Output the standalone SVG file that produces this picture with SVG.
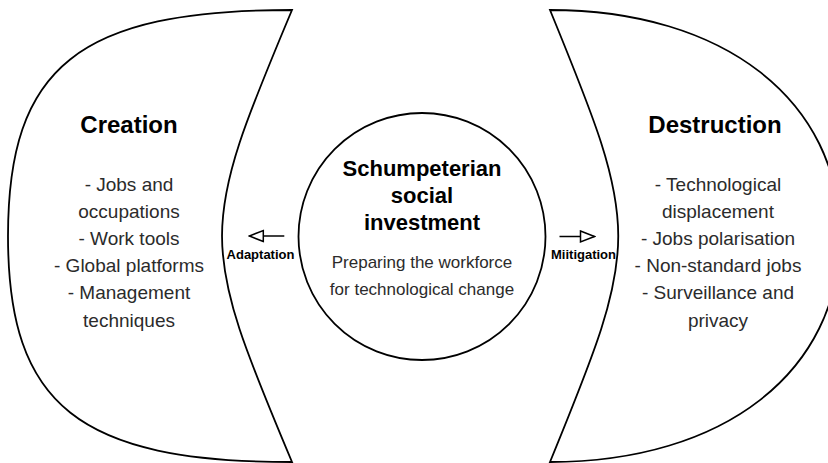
<svg xmlns="http://www.w3.org/2000/svg" width="828" height="463" viewBox="0 0 828 463">
  <style>
    .shape { fill: #ffffff; stroke: #000000; stroke-width: 1.8; }
    .title { font-family: "Liberation Sans", Arial, sans-serif; font-weight: bold; font-size: 24px; fill: #000000; text-anchor: middle; }
    .ctitle { font-family: "Liberation Sans", Arial, sans-serif; font-weight: bold; font-size: 22px; fill: #000000; text-anchor: middle; }
    .item { font-family: "Liberation Sans", Arial, sans-serif; font-size: 19px; fill: #2b2b2b; text-anchor: middle; }
    .sub { font-family: "Liberation Sans", Arial, sans-serif; font-size: 17px; fill: #2b2b2b; text-anchor: middle; }
    .lbl { font-family: "Liberation Sans", Arial, sans-serif; font-weight: bold; font-size: 13px; fill: #000000; text-anchor: middle; }
    .conn { fill: none; stroke: #000000; stroke-width: 1.5; }
  </style>
  <defs>
    <marker id="openArrow" viewBox="-1 -1 17 14" refX="14.5" refY="6" markerWidth="17" markerHeight="14" markerUnits="userSpaceOnUse" orient="auto">
      <path d="M0.5,0.5 L14.5,6 L0.5,11.5 Z" fill="#ffffff" stroke="#000000" stroke-width="1.5"/>
    </marker>
  </defs>
  <rect width="828" height="463" fill="#ffffff"/>

  <g id="creation">
    <path class="shape" d="M292,10 C79,10 8,66.5 8,236 C8,405.5 79,462 292,462 C198.7,240.4 198.7,231.6 292,10 Z"/>
    <text class="title" x="129" y="133">Creation</text>
    <text class="item" x="129" y="190.5">- Jobs and</text>
    <text class="item" x="129" y="217.7">occupations</text>
    <text class="item" x="129" y="244.9">- Work tools</text>
    <text class="item" x="129" y="272.1">- Global platforms</text>
    <text class="item" x="129" y="299.3">- Management</text>
    <text class="item" x="129" y="326.5">techniques</text>
  </g>

  <g id="destruction">
    <path class="shape" d="M550,10 C724,10 840,100.4 840,236 C840,371.6 724,462 550,462 C641,240.4 641,231.6 550,10 Z"/>
    <text class="title" x="715" y="132.5">Destruction</text>
    <text class="item" x="718" y="190.5">- Technological</text>
    <text class="item" x="718" y="217.7">displacement</text>
    <text class="item" x="718" y="244.9">- Jobs polarisation</text>
    <text class="item" x="718" y="272.1">- Non-standard jobs</text>
    <text class="item" x="718" y="299.3">- Surveillance and</text>
    <text class="item" x="718" y="326.5">privacy</text>
  </g>

  <g id="schumpeterian">
    <circle class="shape" cx="422" cy="236.5" r="123.5"/>
    <text class="ctitle" x="422" y="176">Schumpeterian</text>
    <text class="ctitle" x="422" y="203">social</text>
    <text class="ctitle" x="422" y="230">investment</text>
    <text class="sub" x="422" y="268.3">Preparing the workforce</text>
    <text class="sub" x="422" y="295">for technological change</text>
  </g>

  <g id="connectors">
    <g id="adaptation">
      <path class="conn" d="M284.3,236 L249.3,236" marker-end="url(#openArrow)"/>
      <text class="lbl" x="260.5" y="259">Adaptation</text>
    </g>
    <g id="mitigation">
      <path class="conn" d="M559.5,236.5 L594.5,236.5" marker-end="url(#openArrow)"/>
      <text class="lbl" x="583.5" y="259">Miitigation</text>
    </g>
  </g>
</svg>
